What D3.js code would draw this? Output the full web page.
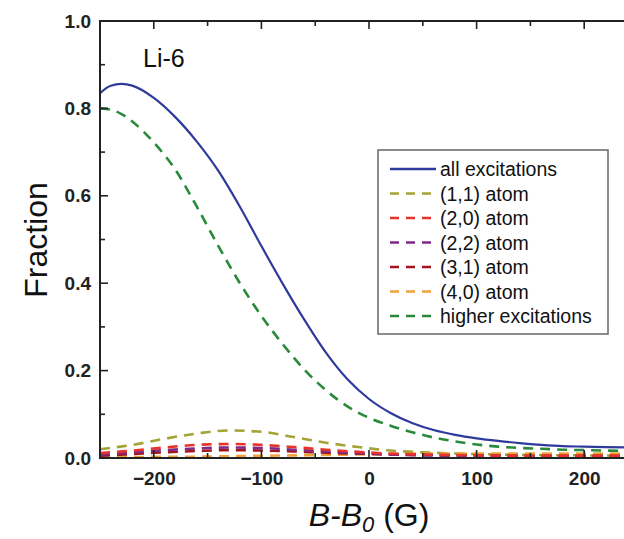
<!DOCTYPE html>
<html>
<head>
<meta charset="utf-8">
<script src="https://cdn.jsdelivr.net/npm/d3@7"></script>
<style>
  body { margin: 0; background: #fff; }
  text { font-family: Arial, "Liberation Sans", sans-serif; }
</style>
</head>
<body>
<div id="chart"></div>
<script>
// Data: B-B0 in gauss, fraction of each channel
const fieldAll = [-250, -240, -230, -220, -200, -180, -160, -140, -120, -100, -80, -60, -40, -20, 0, 20, 40, 60, 80, 100, 120, 140, 160, 180, 200, 220, 250];
const allExcitations = [0.835, 0.852, 0.856, 0.852, 0.824, 0.780, 0.724, 0.657, 0.575, 0.485, 0.398, 0.316, 0.241, 0.180, 0.135, 0.103, 0.080, 0.064, 0.053, 0.045, 0.039, 0.034, 0.030, 0.027, 0.026, 0.025, 0.024];
const higherExcitations = [0.800, 0.797, 0.787, 0.770, 0.722, 0.660, 0.575, 0.485, 0.400, 0.325, 0.260, 0.202, 0.155, 0.118, 0.092, 0.074, 0.059, 0.047, 0.038, 0.031, 0.026, 0.023, 0.021, 0.019, 0.018, 0.017, 0.016];

const fieldSmall = [-250, -220, -190, -160, -130, -100, -70, -40, -10, 20, 50, 100, 150, 200, 250];
const atom11 = [0.020, 0.030, 0.044, 0.056, 0.063, 0.060, 0.048, 0.035, 0.025, 0.017, 0.013, 0.009, 0.007, 0.006, 0.005];
const atom20 = [0.011, 0.017, 0.024, 0.030, 0.032, 0.030, 0.025, 0.019, 0.014, 0.010, 0.008, 0.006, 0.005, 0.005, 0.005];
const atom22 = [0.008, 0.013, 0.018, 0.022, 0.024, 0.023, 0.019, 0.015, 0.011, 0.008, 0.006, 0.005, 0.004, 0.004, 0.004];
const atom31 = [0.005, 0.009, 0.013, 0.016, 0.018, 0.017, 0.015, 0.012, 0.010, 0.008, 0.007, 0.006, 0.005, 0.005, 0.005];
const atom40 = [0.001, 0.002, 0.003, 0.003, 0.004, 0.005, 0.006, 0.007, 0.008, 0.009, 0.010, 0.010, 0.010, 0.010, 0.010];

const xTicks = [-200, -100, 0, 100, 200];
const yTicks = [0.0, 0.2, 0.4, 0.6, 0.8, 1.0];

const series = [
  { name: "all excitations", x: fieldAll, y: allExcitations, color: "#2e3a9c", dash: null },
  { name: "(1,1) atom", x: fieldSmall, y: atom11, color: "#a3a336", dash: "10,7" },
  { name: "(2,0) atom", x: fieldSmall, y: atom20, color: "#e8332b", dash: "10,7" },
  { name: "(2,2) atom", x: fieldSmall, y: atom22, color: "#7d2b86", dash: "10,7" },
  { name: "(3,1) atom", x: fieldSmall, y: atom31, color: "#a3141c", dash: "10,7" },
  { name: "(4,0) atom", x: fieldSmall, y: atom40, color: "#f0a23a", dash: "10,7" },
  { name: "higher excitations", x: fieldAll, y: higherExcitations, color: "#2a8a3c", dash: "10,7" }
];

const W = 624, H = 539;
const plotLeft = 100, plotTop = 21, plotRight = 638, plotBottom = 458;

const svg = d3.select("#chart").append("svg")
  .attr("width", W)
  .attr("height", H);

const x = d3.scaleLinear().domain([-250, 250]).range([plotLeft, plotRight]);
const y = d3.scaleLinear().domain([0, 1]).range([plotBottom, plotTop]);

svg.append("clipPath").attr("id", "plot")
  .append("rect")
  .attr("x", plotLeft).attr("y", plotTop)
  .attr("width", plotRight - plotLeft).attr("height", plotBottom - plotTop);

// curves (drawn back to front so the small ones stay visible)
const line = d3.line().curve(d3.curveMonotoneX);
const order = [0, 6, 1, 5, 4, 3, 2];
svg.append("g").attr("clip-path", "url(#plot)")
  .selectAll("path")
  .data(order.map(i => series[i]))
  .join("path")
  .attr("d", s => line(s.x.map((v, i) => [x(v), y(s.y[i])])))
  .attr("fill", "none")
  .attr("stroke", s => s.color)
  .attr("stroke-width", s => s.dash ? 2.6 : 2.2)
  .attr("stroke-dasharray", s => s.dash);

// axes: ticks point inward, frame on left/top/bottom
const minorX = d3.range(-250, 251, 50);
const minorY = d3.range(0, 1.01, 0.1);

const gx = svg.append("g").attr("transform", `translate(0,${plotBottom})`);
gx.call(d3.axisBottom(x).tickValues(xTicks).tickSize(0).tickPadding(14).tickFormat(d3.format("d")));
gx.select(".domain").remove();
gx.selectAll("text").attr("font-size", 19).attr("font-weight", "bold").attr("fill", "#222");

const gy = svg.append("g").attr("transform", `translate(${plotLeft},0)`);
gy.call(d3.axisLeft(y).tickValues(yTicks).tickSize(0).tickPadding(9).tickFormat(d3.format(".1f")));
gy.select(".domain").remove();
gy.selectAll("text").attr("font-size", 19).attr("font-weight", "bold").attr("fill", "#222");

const tickG = svg.append("g").attr("stroke", "#222").attr("stroke-width", 1.6);
minorX.forEach(v => {
  const len = xTicks.includes(v) ? 8 : 5;
  tickG.append("line").attr("x1", x(v)).attr("x2", x(v)).attr("y1", plotBottom).attr("y2", plotBottom - len);
  tickG.append("line").attr("x1", x(v)).attr("x2", x(v)).attr("y1", plotTop).attr("y2", plotTop + len);
});
minorY.forEach(v => {
  const major = Math.abs(v * 5 - Math.round(v * 5)) < 1e-6;
  tickG.append("line").attr("x1", plotLeft).attr("x2", plotLeft + (major ? 8 : 5)).attr("y1", y(v)).attr("y2", y(v));
});

svg.append("path")
  .attr("d", `M${plotRight},${plotTop}H${plotLeft}V${plotBottom}H${plotRight}`)
  .attr("fill", "none")
  .attr("stroke", "#222")
  .attr("stroke-width", 2);

// labels
svg.append("text")
  .attr("x", 143).attr("y", 67)
  .attr("font-size", 25)
  .attr("fill", "#111")
  .text("Li-6");

svg.append("text")
  .attr("transform", `translate(47,240) rotate(-90)`)
  .attr("text-anchor", "middle")
  .attr("font-size", 32)
  .attr("fill", "#111")
  .text("Fraction");

const xt = svg.append("text")
  .attr("x", 369).attr("y", 526)
  .attr("text-anchor", "middle")
  .attr("font-size", 32)
  .attr("fill", "#111");
xt.append("tspan").attr("font-style", "italic").text("B-B");
xt.append("tspan").attr("font-style", "italic").attr("font-size", 22).attr("dy", 6).text("0");
xt.append("tspan").attr("dy", -6).text(" (G)");

// legend
const legend = svg.append("g");
legend.append("rect")
  .attr("x", 378).attr("y", 150)
  .attr("width", 230).attr("height", 184)
  .attr("fill", "#fff")
  .attr("stroke", "#666")
  .attr("stroke-width", 1.5);

series.forEach((s, i) => {
  const ly = 169 + i * 24.5;
  legend.append("line")
    .attr("x1", 390).attr("x2", 436)
    .attr("y1", ly).attr("y2", ly)
    .attr("stroke", s.color)
    .attr("stroke-width", 2.4)
    .attr("stroke-dasharray", s.dash ? "9,7" : null);
  legend.append("text")
    .attr("x", 440).attr("y", ly + 7)
    .attr("font-size", 19.5)
    .attr("fill", "#111")
    .text(s.name);
});
</script>
</body>
</html>
